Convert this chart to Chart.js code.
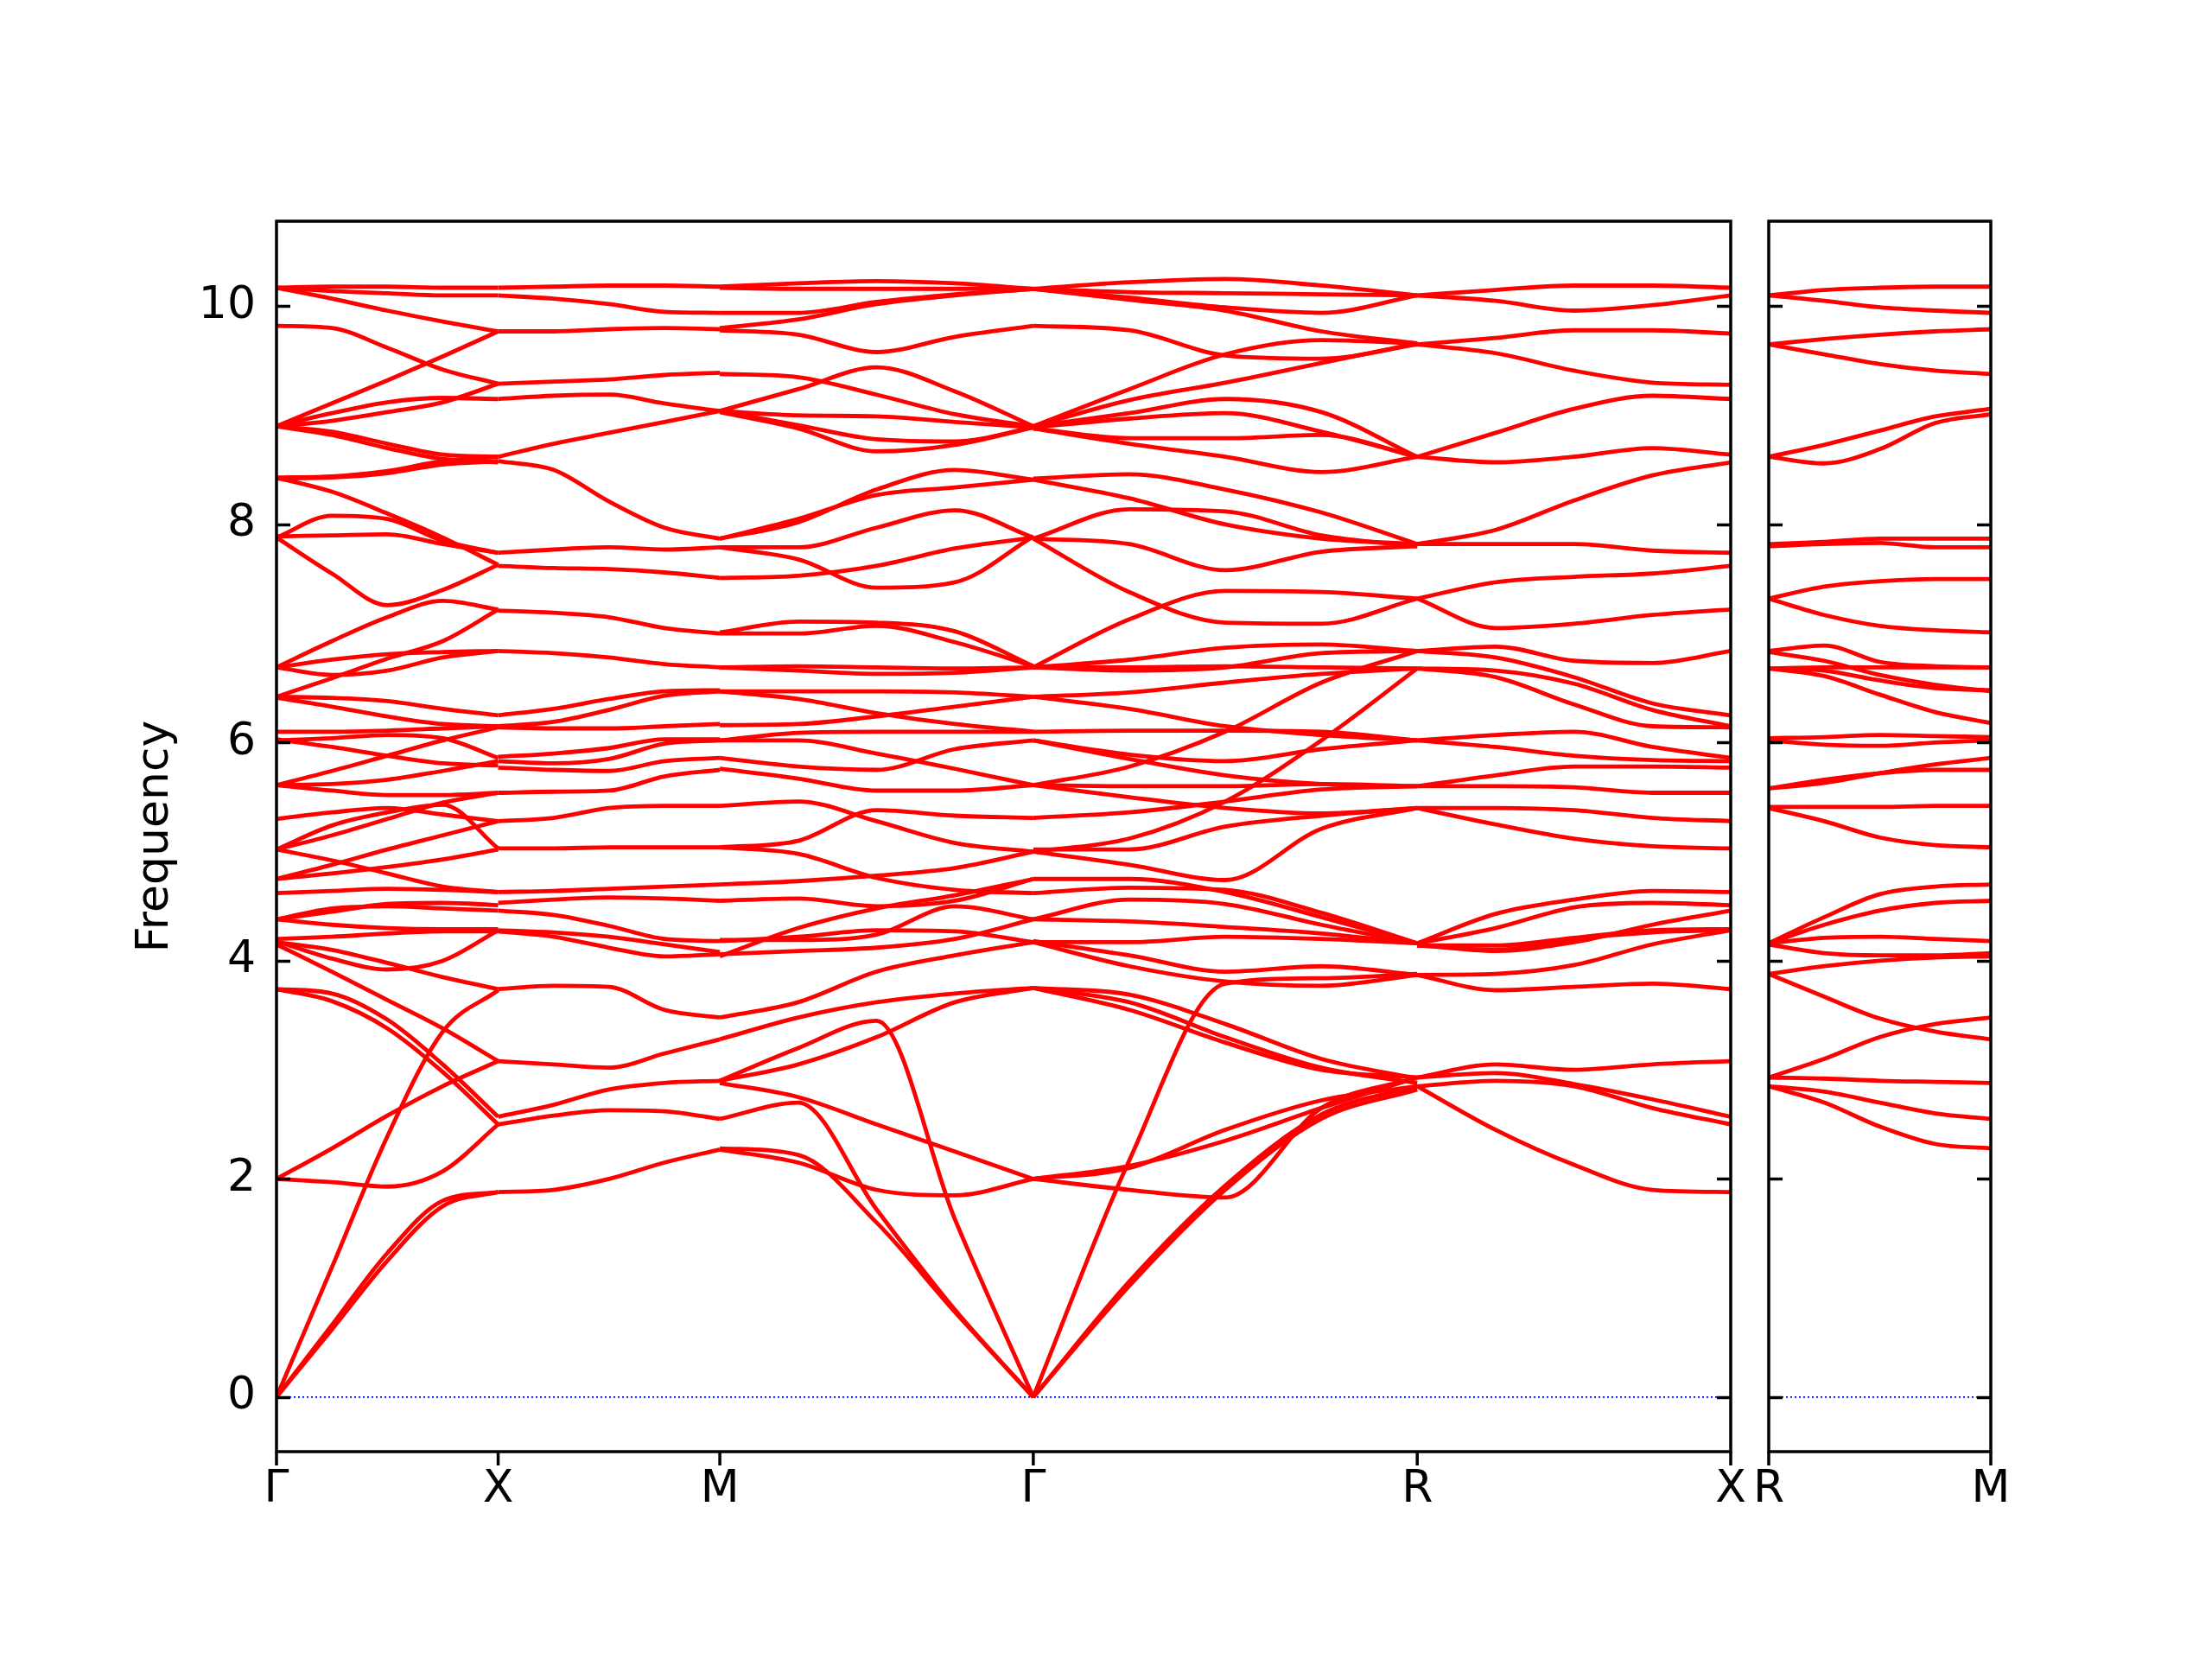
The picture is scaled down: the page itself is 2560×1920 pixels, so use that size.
<!DOCTYPE html>
<html><head><meta charset="utf-8">
<script src="https://cdn.jsdelivr.net/npm/chart.js@4"></script>
<style>
html,body{margin:0;padding:0;background:#fff;}
body{width:2560px;height:1920px;position:relative;overflow:hidden;}
canvas{position:absolute;top:0;}
</style></head><body>
<canvas id="c1" width="2040" height="1920" style="left:0px"></canvas>
<canvas id="c2" width="340" height="1920" style="left:2000px"></canvas>
<script>
// ---- path / axis data ----
const pathLabels = ['Γ','X','M','Γ','R','X'];
const pathPos = [0, 1, 2, 3.4142, 5.1463, 6.5605];
const panel2Labels = ['R','M'];
const panel2Pos = [0, 1];
const yTicks = [0, 2, 4, 6, 8, 10];
const fracs = [0, 0.25, 0.5, 0.75, 1];

// ---- band values (frequency) at fracs along each segment ----
const bandsGX = [
 [10.17,10.18,10.18,10.17,10.17],[10.17,10.14,10.12,10.10,10.10],[10.17,10.07,9.96,9.86,9.77],
 [9.82,9.80,9.62,9.42,9.29],[8.90,9.11,9.32,9.54,9.77],[8.90,9.02,9.12,9.16,9.15],
 [8.90,8.95,9.03,9.12,9.29],[8.90,8.85,8.74,8.64,8.62],[8.90,8.82,8.70,8.60,8.57],
 [8.43,8.44,8.49,8.58,8.62],[8.42,8.43,8.47,8.55,8.58],[8.43,8.30,8.10,7.88,7.63],
 [7.88,8.08,8.05,7.85,7.74],[7.89,7.90,7.91,7.82,7.74],[7.88,7.55,7.26,7.40,7.63],
 [6.69,6.93,7.15,7.30,7.22],[6.42,6.59,6.77,6.93,7.22],[6.69,6.76,6.81,6.83,6.84],
 [6.69,6.62,6.66,6.78,6.84],[6.42,6.41,6.38,6.31,6.25],[6.41,6.33,6.24,6.17,6.15],
 [6.10,6.10,6.11,6.13,6.15],[6.02,6.04,6.07,6.04,5.86],[6.03,5.96,5.88,5.81,5.79],
 [5.61,5.62,5.66,5.74,5.83],[5.61,5.56,5.52,5.52,5.54],[5.61,5.74,5.88,6.02,6.14],
 [5.30,5.36,5.40,5.34,5.28],[5.02,5.24,5.36,5.43,5.03],[5.02,5.15,5.30,5.45,5.54],
 [5.02,4.92,4.80,4.68,4.63],[4.75,4.88,5.02,5.15,5.28],[4.75,4.80,4.86,4.93,5.02],
 [4.62,4.64,4.66,4.65,4.63],[4.38,4.48,4.50,4.48,4.46],[4.38,4.33,4.30,4.29,4.29],
 [4.38,4.45,4.52,4.53,4.51],[4.20,4.22,4.25,4.27,4.27],[4.18,4.02,3.92,4.00,4.28],
 [4.17,4.10,3.98,3.85,3.74],[4.15,3.90,3.64,3.38,3.08],[3.74,3.70,3.46,3.05,2.57],
 [3.74,3.63,3.38,2.98,2.50],[0,1.19,2.39,3.35,3.73],[2.0,2.28,2.58,2.85,3.08],
 [2.0,1.97,1.93,2.07,2.50],[0,0.66,1.32,1.80,1.88],[0,0.62,1.25,1.75,1.88]
];
const bandsXM = [
 [10.17,10.18,10.19,10.19,10.18],[10.10,10.07,10.02,9.95,9.94],[9.77,9.77,9.79,9.80,9.79],
 [9.29,9.31,9.33,9.37,9.39],[9.15,9.18,9.19,9.11,9.04],[8.62,8.74,8.84,8.94,9.04],
 [8.58,8.50,8.21,7.97,7.87],[7.74,7.77,7.79,7.77,7.79],[7.62,7.60,7.59,7.56,7.51],
 [7.21,7.19,7.15,7.05,7.00],[6.84,6.82,6.78,6.72,6.69],[6.25,6.31,6.40,6.47,6.48],
 [6.15,6.19,6.30,6.43,6.47],[6.14,6.13,6.13,6.15,6.17],[5.87,5.90,5.95,6.03,6.03],
 [5.83,5.81,5.85,5.99,6.02],[5.77,5.75,5.74,5.83,5.86],[5.54,5.55,5.56,5.69,5.75],
 [5.28,5.31,5.40,5.42,5.42],[5.03,5.03,5.04,5.04,5.04],[4.63,4.64,4.66,4.68,4.70],
 [4.53,4.56,4.58,4.57,4.55],[4.46,4.42,4.32,4.20,4.18],[4.28,4.26,4.22,4.15,4.08],
 [4.27,4.22,4.12,4.04,4.06],[3.74,3.77,3.76,3.55,3.48],[3.08,3.05,3.02,3.15,3.28],
 [2.57,2.68,2.82,2.88,2.90],[2.50,2.58,2.63,2.62,2.55],[1.88,1.90,2.00,2.15,2.27]
];
const bandsMG = [
 [10.18,10.21,10.23,10.21,10.16],[10.17,10.16,10.16,10.16,10.16],[9.94,9.94,10.04,10.11,10.16],
 [9.80,9.88,10.02,10.10,10.16],[9.78,9.74,9.58,9.72,9.82],[9.38,9.35,9.19,9.01,8.90],
 [9.04,9.24,9.44,9.22,8.90],[9.04,9.00,8.99,8.94,8.89],[9.04,8.91,8.78,8.76,8.89],
 [9.03,8.88,8.67,8.73,8.89],[7.87,8.02,8.32,8.50,8.41],[7.87,8.05,8.27,8.34,8.41],
 [7.79,7.79,7.97,8.13,7.88],[7.79,7.68,7.42,7.47,7.89],[7.51,7.53,7.62,7.78,7.88],
 [7.01,7.11,7.10,7.02,6.70],[7.00,7.00,7.07,6.92,6.70],[6.69,6.70,6.69,6.68,6.69],
 [6.69,6.66,6.63,6.64,6.69],[6.47,6.47,6.47,6.46,6.42],[6.47,6.40,6.27,6.17,6.10],
 [6.16,6.17,6.24,6.33,6.42],[6.02,6.09,6.10,6.10,6.10],[6.02,6.02,5.90,5.76,5.61],
 [5.86,5.78,5.75,5.94,6.02],[5.76,5.67,5.56,5.56,5.61],[5.42,5.46,5.28,5.08,5.00],
 [5.04,5.10,5.38,5.33,5.31],[5.04,4.98,4.76,4.65,4.62],[4.70,4.73,4.78,4.85,5.00],
 [4.55,4.57,4.50,4.55,4.75],[4.18,4.22,4.28,4.27,4.17],[4.19,4.19,4.24,4.50,4.38],
 [4.06,4.09,4.12,4.20,4.38],[4.04,4.30,4.48,4.60,4.75],[3.48,3.62,3.90,4.05,4.17],
 [3.28,3.48,3.62,3.70,3.75],[2.90,3.05,3.30,3.62,3.75],[2.90,3.20,3.45,1.63,0],
 [2.88,2.75,2.50,2.25,2.0],[2.55,2.70,1.72,0.80,0],[2.28,2.22,1.60,0.78,0],
 [2.27,2.15,1.90,1.85,2.0]
];
const bandsGR = [
 [10.16,10.22,10.25,10.19,10.10],[10.16,10.13,10.12,10.11,10.10],[10.16,10.08,9.99,9.94,10.10],
 [10.16,10.06,9.96,9.77,9.66],[9.82,9.78,9.55,9.52,9.65],[8.90,9.24,9.56,9.69,9.66],
 [8.90,9.14,9.30,9.48,9.66],[8.90,9.02,9.15,9.03,8.62],[8.89,8.97,9.02,8.85,8.62],
 [8.88,8.79,8.79,8.82,8.62],[8.88,8.74,8.62,8.48,8.62],[8.42,8.46,8.32,8.11,7.82],
 [8.41,8.24,8.00,7.87,7.82],[7.87,8.14,8.12,7.90,7.80],[7.87,7.82,7.58,7.75,7.80],
 [7.87,7.38,7.10,7.09,7.32],[6.69,7.13,7.39,7.38,7.32],[6.69,6.76,6.87,6.90,6.84],
 [6.69,6.66,6.69,6.82,6.84],[5.61,5.78,6.10,6.55,6.84],[6.69,6.69,6.70,6.69,6.68],
 [6.42,6.46,6.55,6.63,6.68],[5.00,5.12,5.46,6.02,6.68],[6.42,6.31,6.15,6.07,6.02],
 [6.10,6.11,6.11,6.10,6.02],[6.02,5.89,5.83,5.94,6.02],[5.61,5.60,5.60,5.62,5.60],
 [5.31,5.36,5.46,5.57,5.60],[6.02,5.85,5.70,5.62,5.60],[5.00,4.88,4.74,5.21,5.40],
 [5.02,5.02,5.23,5.33,5.40],[5.61,5.50,5.40,5.35,5.40],[4.75,4.75,4.63,4.40,4.16],
 [4.62,4.67,4.65,4.44,4.16],[4.38,4.56,4.52,4.33,4.16],[4.38,4.36,4.31,4.25,4.16],
 [4.17,4.17,4.22,4.20,4.16],[4.17,3.95,3.81,3.77,3.87],[0,2.17,3.79,3.84,3.88],
 [4.18,4.05,3.90,3.95,3.87],[3.75,3.69,3.42,3.10,2.92],[3.75,3.62,3.30,3.02,2.88],
 [3.75,3.55,3.25,3.00,2.93],[2.0,2.12,2.35,2.65,2.93],[2.0,2.10,2.45,2.72,2.85],
 [2.0,1.90,1.83,2.65,2.93],[0,1.06,1.94,2.59,2.85],[0,1.02,1.90,2.55,2.82]
];
const bandsRX = [
 [10.10,10.15,10.19,10.19,10.17],[10.10,10.05,9.96,10.01,10.10],[9.65,9.71,9.78,9.78,9.75],
 [9.65,9.57,9.41,9.30,9.28],[8.62,8.84,9.06,9.18,9.15],[8.62,8.57,8.62,8.70,8.64],
 [7.82,7.95,8.22,8.45,8.57],[7.82,7.82,7.82,7.76,7.74],[7.32,7.47,7.52,7.55,7.62],
 [7.32,7.05,7.09,7.17,7.22],[6.84,6.88,6.75,6.73,6.84],[6.84,6.78,6.60,6.36,6.25],
 [6.68,6.66,6.54,6.30,6.15],[6.68,6.60,6.35,6.15,6.14],[6.02,6.07,6.10,5.96,5.86],
 [6.02,5.96,5.88,5.84,5.83],[5.60,5.70,5.78,5.78,5.77],[5.60,5.60,5.59,5.54,5.54],
 [5.40,5.40,5.38,5.31,5.28],[5.40,5.25,5.12,5.05,5.03],[4.16,4.43,4.56,4.64,4.63],
 [4.16,4.30,4.49,4.53,4.51],[4.14,4.14,4.21,4.28,4.29],[4.15,4.09,4.17,4.33,4.46],
 [4.14,4.10,4.20,4.26,4.28],[3.87,3.88,3.96,4.15,4.28],[3.87,3.73,3.76,3.79,3.74],
 [2.93,3.05,3.00,3.05,3.08],[2.93,2.97,2.87,2.73,2.57],[2.85,2.90,2.85,2.65,2.50],
 [2.85,2.45,2.13,1.90,1.88]
];
const bandsRM = [
 [10.10,10.15,10.17,10.18,10.18],[10.10,10.05,9.99,9.96,9.94],[9.65,9.70,9.74,9.77,9.79],
 [9.65,9.56,9.47,9.41,9.38],[8.62,8.73,8.86,8.99,9.06],[8.62,8.56,8.69,8.93,9.01],
 [7.82,7.84,7.87,7.87,7.87],[7.80,7.82,7.83,7.79,7.79],[7.32,7.43,7.48,7.50,7.50],
 [7.32,7.17,7.07,7.03,7.01],[6.84,6.89,6.74,6.70,6.69],[6.83,6.75,6.62,6.53,6.47],
 [6.68,6.61,6.44,6.28,6.18],[6.68,6.66,6.57,6.50,6.48],[6.68,6.69,6.69,6.69,6.69],
 [6.04,6.05,6.07,6.06,6.05],[6.02,5.98,5.97,6.00,6.02],[5.58,5.63,5.72,5.80,5.86],
 [5.58,5.66,5.72,5.75,5.75],[5.41,5.41,5.41,5.42,5.42],[5.40,5.28,5.13,5.06,5.04],
 [4.16,4.40,4.61,4.68,4.70],[4.16,4.33,4.46,4.53,4.55],[4.16,4.21,4.22,4.20,4.18],
 [4.15,4.07,4.05,4.05,4.07],[3.88,3.95,4.00,4.03,4.04],[3.88,3.67,3.47,3.35,3.28],
 [2.93,3.10,3.30,3.42,3.48],[2.93,2.92,2.90,2.89,2.88],[2.85,2.80,2.70,2.60,2.55],
 [2.85,2.70,2.48,2.32,2.28]
];
const mainSegments = [bandsGX, bandsXM, bandsMG, bandsGR, bandsRX];

// ---- styling ----
const FONT = '"DejaVu Sans", "Liberation Sans", sans-serif';
const FSIZE = 52;
const RED = '#ff0000';

function segDatasets(bands, x0, x1) {
  return bands.map(b => ({
    data: b.map((v, i) => ({x: x0 + fracs[i] * (x1 - x0), y: v})),
    borderColor: RED, borderWidth: 4.8, pointRadius: 0,
    cubicInterpolationMode: 'monotone', fill: false
  }));
}
function zeroLine(x0, x1) {
  return {data: [{x: x0, y: 0}, {x: x1, y: 0}], borderColor: '#0000ff', borderWidth: 1.6,
          borderDash: [2, 3], pointRadius: 0, fill: false};
}

const framePlugin = {
  id: 'frame',
  afterDatasetsDraw(chart, args, opts) {
    const {ctx, chartArea: {left, right, top, bottom}, scales: {x, y}} = chart;
    ctx.save();
    ctx.strokeStyle = '#000'; ctx.lineWidth = 3.5; ctx.lineCap = 'butt';
    ctx.strokeRect(left, top, right - left, bottom - top);
    ctx.beginPath();
    for (const v of yTicks) {
      const py = Math.round(y.getPixelForValue(v)) + 0.5;
      ctx.moveTo(left, py); ctx.lineTo(left + 16, py);
      ctx.moveTo(right, py); ctx.lineTo(right - 16, py);
    }
    for (const p of opts.xt) {
      const px = x.getPixelForValue(p);
      ctx.moveTo(px, bottom); ctx.lineTo(px, bottom + 16);
    }
    ctx.stroke();
    if (opts.ylabel) {
      ctx.fillStyle = '#000';
      ctx.font = FSIZE + 'px ' + FONT;
      ctx.translate(opts.ylabelX, (top + bottom) / 2);
      ctx.rotate(-Math.PI / 2);
      ctx.textAlign = 'center'; ctx.textBaseline = 'middle';
      ctx.fillText(opts.ylabel, 0, 0);
    }
    ctx.restore();
  }
};

function makeOptions(xmin, xmax, xt, xl, yw, padRight, showY, ylabel) {
  return {
    responsive: false, animation: false, devicePixelRatio: 1,
    layout: {padding: {left: 0, right: padRight, top: 256, bottom: 0}},
    plugins: {legend: {display: false}, tooltip: {enabled: false},
              frame: {xt: xt, ylabel: ylabel, ylabelX: 180}},
    scales: {
      x: {type: 'linear', min: xmin, max: xmax,
          grid: {display: false, drawTicks: false}, border: {display: false},
          afterBuildTicks: s => { s.ticks = xt.map(v => ({value: v})); },
          afterFit: s => { s.height = 240; },
          ticks: {autoSkip: false, maxRotation: 0, padding: 13, color: '#000',
                  font: {family: FONT, size: FSIZE},
                  callback: (v, i) => xl[i]}},
      y: {type: 'linear', min: -0.5, max: 10.78,
          grid: {display: false, drawTicks: false}, border: {display: false},
          afterBuildTicks: s => { s.ticks = yTicks.map(v => ({value: v})); },
          afterFit: s => { s.width = yw; },
          ticks: {display: showY, padding: 24, color: '#000',
                  font: {family: FONT, size: FSIZE},
                  callback: v => String(v)}}
    }
  };
}

const ds1 = [];
mainSegments.forEach((bands, k) => ds1.push(...segDatasets(bands, pathPos[k], pathPos[k + 1])));
ds1.push(zeroLine(pathPos[0], pathPos[pathPos.length - 1]));
new Chart(document.getElementById('c1'), {
  type: 'line', data: {datasets: ds1},
  options: makeOptions(pathPos[0], pathPos[pathPos.length - 1], pathPos, pathLabels, 320, 37, true, 'Frequency'),
  plugins: [framePlugin]
});

const ds2 = segDatasets(bandsRM, panel2Pos[0], panel2Pos[1]);
ds2.push(zeroLine(panel2Pos[0], panel2Pos[1]));
new Chart(document.getElementById('c2'), {
  type: 'line', data: {datasets: ds2},
  options: makeOptions(panel2Pos[0], panel2Pos[1], panel2Pos, panel2Labels, 47, 36, false, null),
  plugins: [framePlugin]
});
</script>
</body></html>
